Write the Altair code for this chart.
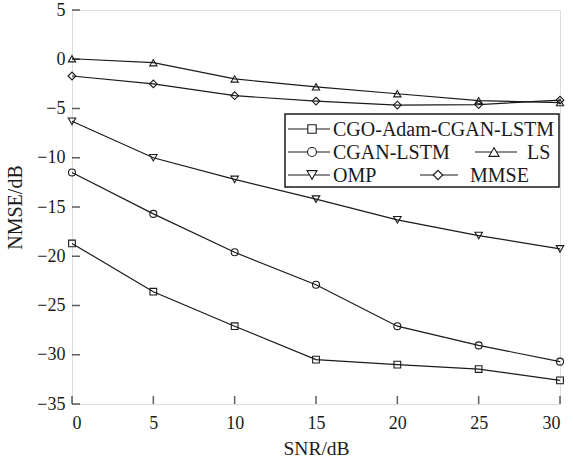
import altair as alt
import pandas as pd

snr = [0, 5, 10, 15, 20, 25, 30]
cgo = [-18.7, -23.6, -27.1, -30.5, -31.0, -31.45, -32.6]
cgan = [-11.5, -15.7, -19.6, -22.9, -27.1, -29.05, -30.7]
ls = [0.05, -0.35, -2.0, -2.8, -3.5, -4.2, -4.4]
omp = [-6.3, -10.0, -12.2, -14.2, -16.3, -17.9, -19.25]
mmse = [-1.7, -2.5, -3.7, -4.25, -4.65, -4.6, -4.15]

series_names = ["CGO-Adam-CGAN-LSTM", "CGAN-LSTM", "LS", "OMP", "MMSE"]
series_vals = [cgo, cgan, ls, omp, mmse]
shapes = ["square", "circle", "triangle-up", "triangle-down", "diamond"]

y_ticks = [5, 0, -5, -10, -15, -20, -25, -30, -35]
x_ticks = [0, 5, 10, 15, 20, 25, 30]

rows = []
for name, vals in zip(series_names, series_vals):
    for s, v in zip(snr, vals):
        rows.append({"snr": s, "nmse": v, "series": name})
df = pd.DataFrame(rows)

W, H = 488, 394
FONT = "Liberation Serif"
INK = "#1a1a1a"

xs = alt.Scale(domain=[0, 30], nice=False, zero=False)
ys = alt.Scale(domain=[-35, 5], nice=False, zero=False)

x_enc = alt.X("snr:Q", scale=xs,
              axis=alt.Axis(values=x_ticks, ticks=False, domain=False, grid=False,
                            title="SNR/dB", labelFont=FONT, labelFontSize=18,
                            labelColor=INK, labelPadding=10, titleFont=FONT,
                            titleFontSize=19.5, titleFontWeight="normal", titleColor=INK,
                            titlePadding=7))
y_enc = alt.Y("nmse:Q", scale=ys,
              axis=alt.Axis(values=y_ticks, ticks=False, domain=False, grid=False,
                            title="NMSE/dB", labelFont=FONT, labelFontSize=18,
                            labelColor=INK, labelPadding=7,
                            labelExpr="replace(datum.label, '-', '\u2212')",
                            titleFont=FONT, titleFontSize=20, titleFontWeight="normal",
                            titleColor=INK, titlePadding=11))

base = alt.Chart(df)
lines = base.mark_line(color=INK, strokeWidth=1.2).encode(
    x=x_enc, y=y_enc, detail="series:N")
points = base.mark_point(filled=False, color=INK, strokeWidth=1.1, opacity=1).encode(
    x="snr:Q", y="nmse:Q",
    shape=alt.Shape("series:N", scale=alt.Scale(domain=series_names, range=shapes), legend=None),
    size=alt.Size("series:N", scale=alt.Scale(domain=series_names, range=[45, 60, 70, 70, 60]), legend=None))

ytick_df = pd.DataFrame({"v": y_ticks})
xtick_df = pd.DataFrame({"v": x_ticks})
yt = alt.Chart(ytick_df).mark_tick(orient="horizontal", color=INK, thickness=1.5, size=8).encode(
    y=alt.Y("v:Q", scale=ys), x=alt.value(4))
xt = alt.Chart(xtick_df).mark_tick(orient="vertical", color=INK, thickness=1.5, size=8).encode(
    x=alt.X("v:Q", scale=xs), y=alt.value(H - 4))

one = alt.Data(values=[{"a": 1}])
legend_layers = [
    alt.Chart(one).mark_rect(fill="white", stroke=INK, strokeWidth=1.5).encode(
        x=alt.value(213), x2=alt.value(487), y=alt.value(104), y2=alt.value(177))
]
# (line start, line end, marker x, text x, y)
leg_pos = [
    (216, 258, 240, 261, 119),
    (216, 258, 240, 261, 142),
    (403, 445, 422, 455, 142),
    (216, 258, 240, 261, 165),
    (348, 386, 366, 398, 165),
]
leg_sizes = [70, 80, 100, 100, 90]
for name, shp, sz, (l0, l1, mx, tx, yy) in zip(series_names, shapes, leg_sizes, leg_pos):
    legend_layers.append(alt.Chart(one).mark_rule(color=INK, strokeWidth=1.2).encode(
        x=alt.value(l0), x2=alt.value(l1), y=alt.value(yy)))
    legend_layers.append(alt.Chart(one).mark_point(filled=False, color=INK, strokeWidth=1.1,
                                                   opacity=1, fill="white", shape=shp, size=sz).encode(
        x=alt.value(mx), y=alt.value(yy)))
    legend_layers.append(alt.Chart(one).mark_text(font=FONT, fontSize=20, color=INK,
                                                  align="left", baseline="middle").encode(
        x=alt.value(tx), y=alt.value(yy + 1), text=alt.value(name)))

chart = alt.layer(lines, points, yt, xt, *legend_layers).properties(
    width=W, height=H,
    autosize=alt.AutoSizeParams(type="none"),
    padding={"left": 72, "top": 10, "right": 13, "bottom": 58},
).configure_view(stroke=INK, strokeWidth=1.6).configure(background="white")

chart.save("out.html", embed_options={"renderer": "svg", "actions": False})
